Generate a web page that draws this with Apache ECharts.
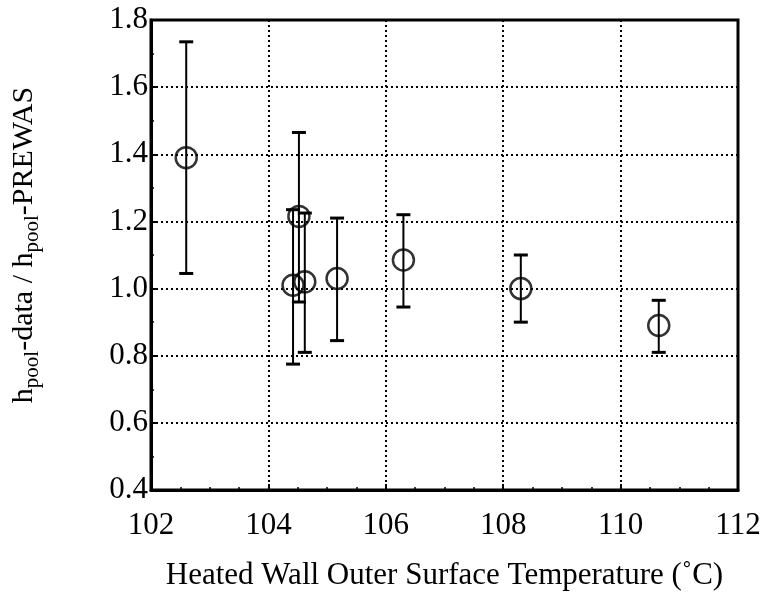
<!DOCTYPE html>
<html><head><meta charset="utf-8">
<script src="https://cdn.jsdelivr.net/npm/echarts@6/dist/echarts.min.js"></script>
<style>html,body{margin:0;padding:0;background:#fff}#c{width:763px;height:601px}</style>
</head><body><div id="c"></div>
<script>
var temps  = [102.6, 104.42, 104.52, 104.62, 105.17, 106.3, 108.3, 110.65];
var ratios = [1.39, 1.01, 1.215, 1.02, 1.03, 1.085, 1.0, 0.89];
var upper  = [1.735, 1.235, 1.465, 1.225, 1.21, 1.22, 1.1, 0.965];
var lower  = [1.045, 0.775, 0.96, 0.81, 0.845, 0.945, 0.9, 0.81];
var xTicks = [102, 104, 106, 108, 110, 112];
var yTicks = [0.4, 0.6, 0.8, 1.0, 1.2, 1.4, 1.6, 1.8];

var font = 'Liberation Serif';
var chart = echarts.init(document.getElementById('c'), null, {renderer:'canvas'});
var pts = temps.map(function(t,i){return [t, ratios[i]];});
var bars = temps.map(function(t,i){return [t, lower[i], upper[i]];});

chart.setOption({
  animation:false,
  backgroundColor:'#fff',
  grid:{left:151, right:25, top:20, bottom:111, show:true, borderColor:'#000', borderWidth:3,
        containLabel:false, outerBoundsMode:'none'},
  xAxis:{type:'value', min:102, max:112, interval:2,
    axisLine:{show:true, onZero:false, lineStyle:{color:'#000', width:3}},
    axisTick:{show:true, inside:true, length:6, lineStyle:{color:'#000', width:2}},
    minorTick:{show:true, splitNumber:4, length:3, lineStyle:{color:'#000', width:1.5}},
    splitLine:{show:true, lineStyle:{color:'#000', type:[2,3], width:2}},
    axisLabel:{color:'#000', fontFamily:font, fontSize:31, margin:20,
      formatter:function(v){return xTicks.indexOf(v)>=0? String(v):'';}},
    name:'Heated Wall Outer Surface Temperature (\u02daC)', nameLocation:'middle', nameGap:70,
    nameTextStyle:{color:'#000', fontFamily:font, fontSize:31}
  },
  yAxis:{type:'value', min:0.4, max:1.8, interval:0.2,
    axisLine:{show:true, onZero:false, lineStyle:{color:'#000', width:3}},
    axisTick:{show:true, inside:true, length:6, lineStyle:{color:'#000', width:2}},
    minorTick:{show:true, splitNumber:2, length:3, lineStyle:{color:'#000', width:1.5}},
    splitLine:{show:true, lineStyle:{color:'#000', type:[2,3], width:2}},
    axisLabel:{color:'#000', fontFamily:font, fontSize:31, margin:3,
      formatter:function(v){return v.toFixed(1);}},
    name:'{m|h}{s|pool}{m|-data / h}{s|pool}{m|-PREWAS}', nameLocation:'middle', nameGap:108,
    nameTextStyle:{color:'#000', fontFamily:font, fontSize:30, padding:[0,0,0,20],
      rich:{m:{fontFamily:font, fontSize:30, color:'#000', lineHeight:38},
            s:{fontFamily:font, fontSize:21, color:'#000', lineHeight:38, padding:[16,0,0,0]}}}
  },
  series:[
    {type:'custom', data:bars, z:3,
     renderItem:function(params, api){
       var x = api.value(0);
       var lo = api.coord([x, api.value(1)]);
       var hi = api.coord([x, api.value(2)]);
       var w = 7;
       var st = {stroke:'#000', lineWidth:2};
       return {type:'group', children:[
         {type:'line', shape:{x1:lo[0], y1:lo[1], x2:hi[0], y2:hi[1]}, style:st},
         {type:'line', shape:{x1:lo[0]-w, y1:lo[1], x2:lo[0]+w, y2:lo[1]}, style:{stroke:'#000', lineWidth:3}},
         {type:'line', shape:{x1:hi[0]-w, y1:hi[1], x2:hi[0]+w, y2:hi[1]}, style:{stroke:'#000', lineWidth:3}}
       ]};
     }},
    {type:'scatter', data:pts, symbol:'circle', symbolSize:21, z:4,
     itemStyle:{color:'rgba(0,0,0,0)', borderColor:'#000', borderWidth:2.5}}
  ]
});
</script></body></html>
